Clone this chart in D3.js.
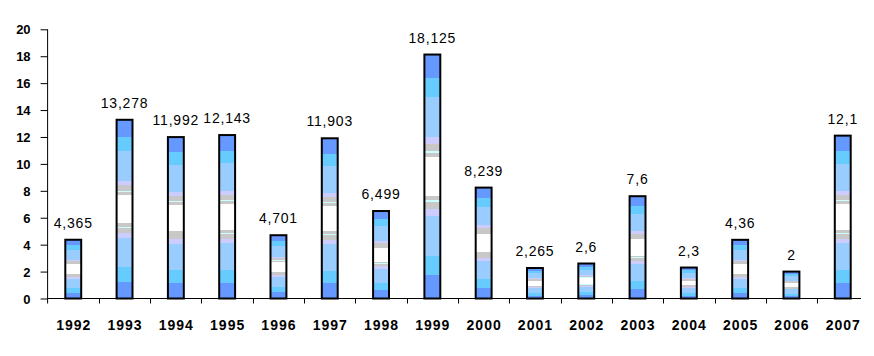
<!DOCTYPE html>
<html><head><meta charset="utf-8">
<script src="https://cdn.jsdelivr.net/npm/d3@7"></script>
<style>body{margin:0;background:#fff;} svg{display:block;}</style>
</head><body>
<script>
const years = ["1992","1993","1994","1995","1996","1997","1998","1999","2000","2001","2002","2003","2004","2005","2006","2007"];
const values = [4.365, 13.278, 11.992, 12.143, 4.701, 11.903, 6.499, 18.125, 8.239, 2.265, 2.6, 7.6, 2.3, 4.36, 2, 12.1];
const valueLabels = ["4,365","13,278","11,992","12,143","4,701","11,903","6,499","18,125","8,239","2,265","2,6","7,6","2,3","4,36","2","12,1"];
const yTicks = [0,2,4,6,8,10,12,14,16,18,20];

const W = 874, H = 356;
const svg = d3.select("body").append("svg").attr("width", W).attr("height", H);

// banded gradient
const bands = [
  [0, 0.095, "#6699ff"], [0.095, 0.174, "#66ccff"], [0.174, 0.34, "#99ccff"],
  [0.34, 0.367, "#ccccff"], [0.367, 0.397, "#c8c8c8"], [0.397, 0.402, "#ccffff"],
  [0.402, 0.42, "#c8c8c8"], [0.42, 0.58, "#ffffff"], [0.58, 0.598, "#c8c8c8"],
  [0.598, 0.603, "#ccffff"], [0.603, 0.633, "#c8c8c8"], [0.633, 0.66, "#ccccff"],
  [0.66, 0.826, "#99ccff"], [0.826, 0.905, "#66ccff"], [0.905, 1, "#6699ff"]
];
const grad = svg.append("defs").append("linearGradient")
  .attr("id", "barGrad").attr("x1", 0).attr("y1", 0).attr("x2", 0).attr("y2", 1);
bands.forEach(b => {
  grad.append("stop").attr("offset", b[0]).attr("stop-color", b[2]);
  grad.append("stop").attr("offset", b[1]).attr("stop-color", b[2]);
});

const x0 = 47.6, step = 51.3;
const x = d3.scaleBand().domain(years).range([x0, x0 + step * years.length]).paddingInner(0.69).paddingOuter(0.345);
const y = d3.scaleLinear().domain([0, 20]).range([298.5, 29.3]);

// y axis
const yAxis = d3.axisLeft(y).tickValues(yTicks).tickSize(7).tickPadding(10).tickFormat(d3.format("d"));
const gy = svg.append("g").attr("transform", `translate(${x0},0)`).call(yAxis);
gy.select(".domain").remove();
gy.selectAll(".tick line").attr("stroke", "#000");
gy.selectAll("text").attr("font-family", "Liberation Sans, Arial, sans-serif")
  .attr("font-weight", "bold").attr("font-size", 13).attr("fill", "#000").attr("dy", "0.36em");
svg.append("line").attr("x1", x0).attr("x2", x0).attr("y1", y(20)).attr("y2", y(0) + 5)
  .attr("stroke", "#000").attr("stroke-width", 1);

// x axis
svg.append("line").attr("x1", x0).attr("x2", 861).attr("y1", y(0)).attr("y2", y(0))
  .attr("stroke", "#000").attr("stroke-width", 1);
svg.selectAll(".xtick").data(years.slice(1)).enter().append("line")
  .attr("x1", d => Math.round(x(d) - (x.step() - x.bandwidth()) / 2) + 0.5)
  .attr("x2", d => Math.round(x(d) - (x.step() - x.bandwidth()) / 2) + 0.5)
  .attr("y1", y(0)).attr("y2", y(0) + 5).attr("stroke", "#000").attr("stroke-width", 1);
svg.selectAll(".xlab").data(years).enter().append("text")
  .attr("x", d => x(d) + x.bandwidth() / 2 + 0.5).attr("y", 330)
  .attr("text-anchor", "middle").attr("font-family", "Liberation Sans, Arial, sans-serif")
  .attr("font-weight", "bold").attr("font-size", 14).attr("letter-spacing", 1)
  .text(d => d);

// bars
svg.selectAll(".bar").data(values).enter().append("rect")
  .attr("x", (d, i) => x(years[i])).attr("width", x.bandwidth())
  .attr("y", d => y(d)).attr("height", d => y(0) - y(d))
  .attr("fill", "url(#barGrad)").attr("stroke", "#000").attr("stroke-width", 2);

// value labels
svg.selectAll(".vlab").data(values).enter().append("text")
  .attr("x", (d, i) => x(years[i]) + x.bandwidth() / 2)
  .attr("y", d => y(d) - 12)
  .attr("text-anchor", "middle").attr("font-family", "Liberation Sans, Arial, sans-serif")
  .attr("font-size", 14).attr("letter-spacing", 0.8)
  .text((d, i) => valueLabels[i]);
</script>
</body></html>
